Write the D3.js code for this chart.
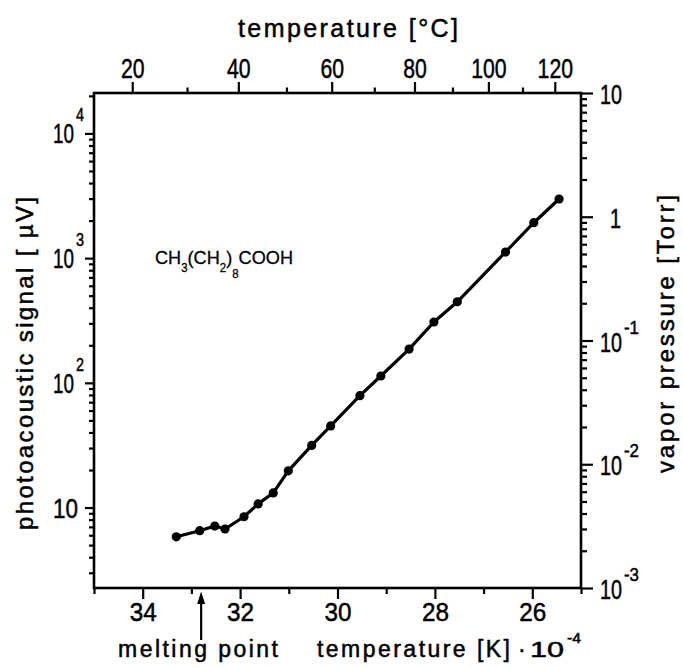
<!DOCTYPE html>
<html>
<head>
<meta charset="utf-8">
<script src="https://d3js.org/d3.v7.min.js"></script>
<style>
  body { margin: 0; background: #fff; }
  text { fill: #000; stroke: #000; stroke-width: 0.5px; }
</style>
</head>
<body>
<script>
// reciprocal temperature (1/K * 10^4) and photoacoustic signal (µV)
var invTemp = [33.31, 32.83, 32.52, 32.31, 31.92, 31.63, 31.32, 31.01, 30.53, 30.14,
               29.54, 29.11, 28.53, 28.02, 27.54, 26.55, 25.97, 25.45];
var signal  = [5.83, 6.52, 7.11, 6.73, 8.44, 10.7, 13.1, 19.7, 31.5, 45.1,
               78.9, 113.5, 186.6, 307.6, 446.7, 1119, 1923, 2979];

var kTicks = [34, 32, 30, 28, 26];
var kMinor = [35, 33, 31, 29, 27, 25];
var cTicks = [20, 40, 60, 80, 100, 120];
var cMinor = [30, 50, 70, 90, 110];
var signalPowers = [1, 2, 3, 4];
var pressurePowers = [-3, -2, -1, 0, 1];
var meltingPoint = 32.8;

var width = 683, height = 668;
var plotLeft = 94, plotRight = 581, plotTop = 93, plotBottom = 588;
var numFont = "'Liberation Sans', Arial, sans-serif";
var txtFont = "'Liberation Sans', Arial, sans-serif";

var svg = d3.select("body").append("svg")
  .attr("width", width)
  .attr("height", height);

var x = d3.scaleLinear().domain([35, 25]).range([plotLeft, plotRight]);
var ySig = d3.scaleLog().domain([Math.pow(10, 0.355), Math.pow(10, 4.324)]).range([plotBottom, plotTop]);
var yVap = d3.scaleLog().domain([1e-3, 10]).range([plotBottom, plotTop]);
// the celsius scale on top sits a few pixels left in the original
var xTop = x.copy().range([plotLeft - 5, plotRight - 5]);
function toInv(c) { return 1e4 / (c + 273.15); }

function logMinor(scale) {
  var d = scale.domain(), out = [];
  for (var e = -4; e <= 5; e++) {
    for (var k = 2; k <= 9; k++) {
      var v = k * Math.pow(10, e);
      if (v >= d[0] && v <= d[1]) out.push(v);
    }
  }
  return out;
}

function styleAxis(g) {
  g.select(".domain").remove();
  g.selectAll("line").attr("stroke", "#000").attr("stroke-width", 2.2);
  g.selectAll("text").style("font-family", numFont).style("font-size", "28px").attr("fill", "#000");
}

// narrow numbers: the original face is condensed, so squeeze the glyphs
function num(xp, yp, str, size, perChar, anchor) {
  return svg.append("text")
    .attr("x", xp).attr("y", yp)
    .attr("text-anchor", anchor || "start")
    .attr("textLength", perChar * String(str).length)
    .attr("lengthAdjust", "spacingAndGlyphs")
    .style("font-family", numFont).style("font-size", size + "px")
    .text(str);
}

// bottom axis (1/T)
svg.append("g").attr("transform", "translate(0," + plotBottom + ")")
  .call(d3.axisBottom(x).tickValues(kMinor).tickSize(6).tickFormat(""))
  .call(styleAxis);
var bAx = svg.append("g").attr("transform", "translate(0," + plotBottom + ")")
  .call(d3.axisBottom(x).tickValues(kTicks).tickSize(11).tickFormat(d3.format("d")))
  .call(styleAxis);
bAx.selectAll("text").attr("y", 33).attr("dy", null).style("font-size", "26px")
  .attr("textLength", 27).attr("lengthAdjust", "spacingAndGlyphs");

// top axis (celsius)
svg.append("g").attr("transform", "translate(0," + plotTop + ")")
  .call(d3.axisTop(xTop).tickValues(cMinor.map(toInv)).tickSize(5.5).tickFormat(""))
  .call(styleAxis);
var tAx = svg.append("g").attr("transform", "translate(0," + plotTop + ")")
  .call(d3.axisTop(xTop).tickValues(cTicks.map(toInv)).tickSize(11).tickPadding(4)
    .tickFormat(function(d, i) { return cTicks[i]; }))
  .call(styleAxis);
tAx.selectAll("text")
  .attr("textLength", function(d, i) { return 11.8 * String(cTicks[i]).length; })
  .attr("lengthAdjust", "spacingAndGlyphs");

// left axis (signal)
svg.append("g").attr("transform", "translate(" + plotLeft + ",0)")
  .call(d3.axisLeft(ySig).tickValues(logMinor(ySig)).tickSize(5).tickFormat(""))
  .call(styleAxis);
svg.append("g").attr("transform", "translate(" + plotLeft + ",0)")
  .call(d3.axisLeft(ySig).tickValues(signalPowers.map(function(p) { return Math.pow(10, p); })).tickSize(9).tickFormat(""))
  .call(styleAxis);

signalPowers.forEach(function(p) {
  var yy = ySig(Math.pow(10, p));
  if (p > 1) {
    num(53, yy + 10, "10", 28, 10.5);
    num(76, yy - 12, p, 19, 8);
  } else {
    num(53, yy + 10, "10", 28, 12.5);
  }
});

// right axis (vapor pressure)
svg.append("g").attr("transform", "translate(" + plotRight + ",0)")
  .call(d3.axisRight(yVap).tickValues(logMinor(yVap)).tickSize(6).tickFormat(""))
  .call(styleAxis);
svg.append("g").attr("transform", "translate(" + plotRight + ",0)")
  .call(d3.axisRight(yVap).tickValues(pressurePowers.map(function(p) { return Math.pow(10, p); })).tickSize(12).tickFormat(""))
  .call(styleAxis);

pressurePowers.forEach(function(p) {
  var yy = yVap(Math.pow(10, p));
  if (p === 0) {
    num(621, yy + 11, "1", 28, 11, "end");
  } else {
    num(600, yy + 11, "10", 28, 11);
    if (p !== 1) num(624, yy - 7, "-" + Math.abs(p), 19, 7.5);
  }
});

// frame
svg.append("rect")
  .attr("x", plotLeft).attr("y", plotTop)
  .attr("width", plotRight - plotLeft).attr("height", plotBottom - plotTop)
  .attr("fill", "none").attr("stroke", "#000").attr("stroke-width", 2.6);

// data
var line = d3.line()
  .x(function(d, i) { return x(invTemp[i]); })
  .y(function(d) { return ySig(d); });

svg.append("path")
  .datum(signal)
  .attr("d", line)
  .attr("fill", "none")
  .attr("stroke", "#000")
  .attr("stroke-width", 3.2)
  .attr("stroke-linejoin", "round");

svg.append("g").selectAll("circle")
  .data(signal)
  .enter().append("circle")
  .attr("cx", function(d, i) { return x(invTemp[i]); })
  .attr("cy", function(d) { return ySig(d); })
  .attr("r", 4.6)
  .attr("fill", "#000");

// titles
svg.append("text")
  .attr("x", 238).attr("y", 37)
  .attr("textLength", 220).attr("lengthAdjust", "spacing")
  .style("font-family", txtFont).style("font-size", "25px")
  .text("temperature [°C]");

svg.append("text")
  .attr("transform", "translate(33,530) rotate(-90)")
  .attr("textLength", 333).attr("lengthAdjust", "spacing")
  .style("font-family", txtFont).style("font-size", "24px")
  .text("photoacoustic signal [ µV]");

svg.append("text")
  .attr("transform", "translate(674,473) rotate(-90)")
  .attr("textLength", 278).attr("lengthAdjust", "spacing")
  .style("font-family", txtFont).style("font-size", "24px")
  .text("vapor pressure [Torr]");

svg.append("text")
  .attr("x", 118).attr("y", 657)
  .attr("textLength", 160).attr("lengthAdjust", "spacing")
  .style("font-family", txtFont).style("font-size", "23px")
  .text("melting point");

svg.append("text")
  .attr("x", 317).attr("y", 657)
  .attr("textLength", 193).attr("lengthAdjust", "spacing")
  .style("font-family", txtFont).style("font-size", "23px")
  .text("temperature [K]");

svg.append("text")
  .attr("x", 518).attr("y", 657)
  .style("font-family", txtFont).style("font-size", "23px")
  .text("·");

num(530, 657, "10", 22, 17);
num(567, 643, "-4", 15, 7);

// melting point arrow
var mx = x(meltingPoint);
svg.append("line")
  .attr("x1", mx).attr("x2", mx)
  .attr("y1", 640).attr("y2", 600)
  .attr("stroke", "#000").attr("stroke-width", 2.2);
svg.append("path")
  .attr("d", "M" + mx + "," + 591.5 + "L" + (mx - 4) + "," + 604 + "L" + (mx + 4) + "," + 604 + "Z")
  .attr("fill", "#000");

// compound label
var chem = svg.append("text")
  .attr("x", 155).attr("y", 264)
  .attr("textLength", 138).attr("lengthAdjust", "spacingAndGlyphs")
  .style("font-family", numFont).style("font-size", "19px")
  .style("stroke-width", "0.3px");
chem.append("tspan").text("CH");
chem.append("tspan").attr("dy", 8).style("font-size", "12px").text("3");
chem.append("tspan").attr("dy", -8).text("(CH");
chem.append("tspan").attr("dy", 8).style("font-size", "12px").text("2");
chem.append("tspan").attr("dy", -8).text(")");
chem.append("tspan").attr("dy", 14).style("font-size", "12px").text("8");
chem.append("tspan").attr("dy", -14).text("COOH");
</script>
</body>
</html>
